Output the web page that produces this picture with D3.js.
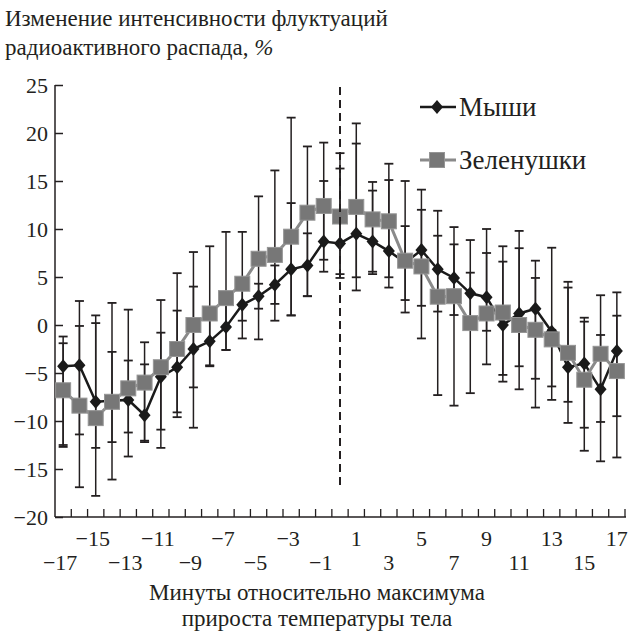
<!DOCTYPE html>
<html>
<head>
<meta charset="utf-8">
<script src="https://cdn.jsdelivr.net/npm/d3@7"></script>
<style>
	body { margin: 0; background: #fff; }
	svg text { fill: #231f20; }
</style>
</head>
<body>
<div id="vis"></div>
<script>

var minutes = [-17,-16,-15,-14,-13,-12,-11,-10,-9,-8,-7,-6,-5,-4,-3,-2,-1,0,1,2,3,4,5,6,7,8,9,10,11,12,13,14,15,16,17];

// Мыши
var mice   = [-4.3,-4.2,-8.0,-7.9,-7.8,-9.4,-5.4,-4.4,-2.5,-1.7,-0.2,2.1,3.0,4.2,5.8,6.2,8.7,8.5,9.5,8.7,7.7,6.5,7.8,5.8,4.9,3.3,2.9,0.0,1.2,1.7,-0.7,-4.4,-4.0,-6.7,-2.7];
var miceLo = [-12.5,-11.4,-17.8,-12.2,-11.2,-12.2,-10.9,-9.6,-10.7,-4.3,-2.6,0.45,1.7,2.2,1.0,3.0,5.55,5.3,4.97,5.55,4.97,2.6,2.0,1.4,1.04,0.7,-0.6,-5.2,-4.3,-5.6,-7.8,-10.2,-10.7,-14.2,-9.5];
var miceHi = [-1.2,2.5,1.0,-2.8,-3.7,-4.1,-0.8,1.5,4.0,1.1,2.4,3.8,4.3,6.2,12.7,9.55,15.0,16.3,18.9,14.0,15.1,10.3,12.0,9.3,8.4,5.45,7.5,6.6,8.0,4.9,8.05,3.9,0.76,-1.04,3.4];

// Зеленушки
var finch   = [-6.8,-8.4,-9.7,-8.0,-6.6,-6.0,-4.4,-2.5,0.0,1.2,2.8,4.3,6.9,7.3,9.2,11.7,12.4,11.3,12.3,11.0,10.8,6.7,6.1,2.95,3.0,0.2,1.2,1.3,0.0,-0.5,-1.5,-2.9,-5.7,-3.0,-4.8];
var finchLo = [-12.7,-16.9,-12.8,-16.1,-13.7,-12.05,-12.8,-9.1,-6.5,-4.2,-2.6,-1.4,-1.5,0.45,1.0,3.0,6.8,4.9,3.6,5.3,3.9,1.3,-1.4,-7.3,-8.4,-7.1,-4.1,-5.9,-6.7,-8.6,-6.4,-8.0,-13.1,-10.1,-13.8];
var finchHi = [-1.9,-0.1,0.2,2.3,1.6,-1.8,2.6,5.4,7.6,8.2,9.7,9.7,13.4,16.1,21.6,18.6,19.0,17.9,21.0,14.9,16.8,15.0,14.1,11.9,10.2,8.85,10.0,8.2,9.8,6.7,-0.5,4.5,0.35,3.1,0.97];

var yTicks = [-20,-15,-10,-5,0,5,10,15,20,25];
var xLabelsTop = [-15,-11,-7,-3,1,5,9,13,17];
var xLabelsBottom = [-17,-13,-9,-5,-1,3,7,11,15];

var markerLine = [24.8, -17]; // вертикальная пунктирная линия в момент 0

var serif = "'Liberation Serif', 'Times New Roman', Tinos, 'DejaVu Serif', 'Noto Serif', FreeSerif, 'Nimbus Roman', Times, serif";

function drawChart() {

	var width = 628, height = 639;
	var padLeft = 55, padRight = 625, padTop = 85, padBottom = 517;

	var svg = d3.select("#vis").append("svg")
		.attr("width", width)
		.attr("height", height)
		.style("font-family", serif);

	var xScale = d3.scaleBand()
		.domain(minutes)
		.range([padLeft, padRight])
		.padding(0);

	var yScale = d3.scaleLinear()
		.domain([-20, 25])
		.range([padBottom, padTop]);

	function cx(m) { return xScale(m) + xScale.bandwidth() / 2; }

	function fmt(v) { return v < 0 ? "\u2212" + Math.abs(v) : "" + v; }

	// axes
	var yAxis = svg.append("g")
		.attr("transform", "translate(" + padLeft + ",0)")
		.call(d3.axisLeft(yScale).tickValues(yTicks).tickSize(-8).tickFormat(fmt))
		.attr("font-family", null)
		.attr("font-size", 22);

	yAxis.select(".domain").attr("stroke", "#231f20").attr("stroke-width", 1.5).attr("d", "M0," + padTop + "V" + padBottom);
	yAxis.selectAll(".tick line").attr("stroke", "#231f20").attr("stroke-width", 1.5);
	yAxis.selectAll(".tick text")
		.attr("fill", "#231f20")
		.attr("dy", "0.33em")
		.attr("x", -7);

	var xAxis = svg.append("g")
		.attr("transform", "translate(0," + padBottom + ")")
		.attr("font-size", 22);

	xAxis.append("line")
		.attr("x1", padLeft).attr("x2", padRight + 1)
		.attr("stroke", "#231f20").attr("stroke-width", 1.5);

	xAxis.selectAll(".xtick")
		.data(minutes.slice(1))
		.enter()
		.append("line")
		.attr("class", "xtick")
		.attr("x1", function (d) { return xScale(d); })
		.attr("x2", function (d) { return xScale(d); })
		.attr("y1", 0).attr("y2", -8)
		.attr("stroke", "#231f20").attr("stroke-width", 1.3);

	xAxis.append("line")
		.attr("x1", padRight).attr("x2", padRight)
		.attr("y1", 0).attr("y2", -8)
		.attr("stroke", "#231f20").attr("stroke-width", 1.3);

	xAxis.selectAll(".xlabTop")
		.data(xLabelsTop)
		.enter()
		.append("text")
		.attr("class", "xlabTop")
		.attr("x", function (d) { return cx(d) - (d < 0 ? 3 : 0); })
		.attr("y", 29)
		.attr("text-anchor", "middle")
		.text(fmt);

	xAxis.selectAll(".xlabBottom")
		.data(xLabelsBottom)
		.enter()
		.append("text")
		.attr("class", "xlabBottom")
		.attr("x", function (d) { return cx(d) - (d < 0 ? 3 : 0); })
		.attr("y", 53)
		.attr("text-anchor", "middle")
		.text(fmt);

	svg.append("text")
		.attr("x", 317).attr("y", 600)
		.attr("text-anchor", "middle")
		.attr("font-size", 23)
		.text("Минуты относительно максимума");

	svg.append("text")
		.attr("x", 317).attr("y", 626)
		.attr("text-anchor", "middle")
		.attr("font-size", 23)
		.text("прироста температуры тела");

	svg.append("text")
		.attr("x", 5).attr("y", 26)
		.attr("font-size", 23)
		.text("Изменение интенсивности флуктуаций");

	var t2 = svg.append("text")
		.attr("x", 5).attr("y", 55)
		.attr("font-size", 23);
	t2.append("tspan").text("радиоактивного распада, ");
	t2.append("tspan").attr("font-style", "italic").text("%");

	// error bars
	function drawErrors(lo, hi, cls) {
		var g = svg.append("g").attr("class", cls);
		var capW = 4.5;
		minutes.forEach(function (m, i) {
			var x = cx(m);
			g.append("line")
				.attr("x1", x).attr("x2", x)
				.attr("y1", yScale(lo[i])).attr("y2", yScale(hi[i]))
				.attr("stroke", "#231f20").attr("stroke-width", 1.5);
			[lo[i], hi[i]].forEach(function (v) {
				g.append("line")
					.attr("x1", x - capW).attr("x2", x + capW)
					.attr("y1", yScale(v)).attr("y2", yScale(v))
					.attr("stroke", "#231f20").attr("stroke-width", 1.8);
			});
		});
	}

	drawErrors(miceLo, miceHi, "errMice");
	drawErrors(finchLo, finchHi, "errFinch");

	var line = function (vals) {
		return d3.line()
			.x(function (d, i) { return cx(minutes[i]); })
			.y(function (d) { return yScale(d); })(vals);
	};

	var diamond = function (x, y) {
		return "M" + x + "," + (y - 7) + "L" + (x + 6) + "," + y + "L" + x + "," + (y + 7) + "L" + (x - 6) + "," + y + "Z";
	};

	// Мыши
	svg.append("path")
		.attr("d", line(mice))
		.attr("fill", "none")
		.attr("stroke", "#1a1a1a")
		.attr("stroke-width", 2.5);

	svg.selectAll(".mouse")
		.data(mice)
		.enter()
		.append("path")
		.attr("class", "mouse")
		.attr("d", function (d, i) { return diamond(cx(minutes[i]), yScale(d)); })
		.attr("fill", "#1a1a1a");

	// Зеленушки
	svg.append("path")
		.attr("d", line(finch))
		.attr("fill", "none")
		.attr("stroke", "#8a8a8a")
		.attr("stroke-width", 3);

	svg.selectAll(".finch")
		.data(finch)
		.enter()
		.append("rect")
		.attr("class", "finch")
		.attr("x", function (d, i) { return cx(minutes[i]) - 7.5; })
		.attr("y", function (d) { return yScale(d) - 7.5; })
		.attr("width", 15)
		.attr("height", 15)
		.attr("fill", "#777777")
		.attr("stroke", "#959595")
		.attr("stroke-width", 1);

	// пунктир
	svg.append("line")
		.attr("x1", cx(0)).attr("x2", cx(0))
		.attr("y1", yScale(markerLine[0])).attr("y2", yScale(markerLine[1]))
		.attr("stroke", "#231f20")
		.attr("stroke-width", 2)
		.attr("stroke-dasharray", "8,5");

	// legend
	var legend = svg.append("g").attr("font-size", 27);

	legend.append("line")
		.attr("x1", 420).attr("x2", 456).attr("y1", 107).attr("y2", 107)
		.attr("stroke", "#1a1a1a").attr("stroke-width", 2.5);
	legend.append("path")
		.attr("d", diamond(437, 107))
		.attr("fill", "#1a1a1a");
	legend.append("text")
		.attr("x", 459).attr("y", 116)
		.text("Мыши");

	legend.append("line")
		.attr("x1", 420).attr("x2", 456).attr("y1", 160).attr("y2", 160)
		.attr("stroke", "#8a8a8a").attr("stroke-width", 3);
	legend.append("rect")
		.attr("x", 429.5).attr("y", 152.5).attr("width", 15).attr("height", 15)
		.attr("fill", "#777777").attr("stroke", "#959595");
	legend.append("text")
		.attr("x", 459).attr("y", 169)
		.text("Зеленушки");
}

drawChart();

</script>
</body>
</html>
